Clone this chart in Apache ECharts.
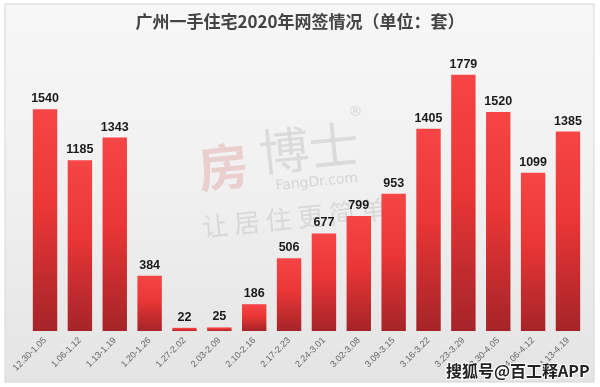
<!DOCTYPE html>
<html><head><meta charset="utf-8">
<script src="https://cdn.jsdelivr.net/npm/echarts@6/dist/echarts.min.js"></script>
<style>html,body{margin:0;padding:0;background:#fff}#c{width:600px;height:387px}</style>
</head><body><div id="c"></div>
<script>
const categories = ['12.30-1.05','1.06-1.12','1.13-1.19','1.20-1.26','1.27-2.02','2.03-2.09','2.10-2.16','2.17-2.23','2.24-3.01','3.02-3.08','3.09-3.15','3.16-3.22','3.23-3.29','3.30-4.05','4.06-4.12','4.13-4.19'];
const values = [1540,1185,1343,384,22,25,186,506,677,799,953,1405,1779,1520,1099,1385];
const titleText = '广州一手住宅2020年网签情况（单位：套）';

const chart = echarts.init(document.getElementById('c'), null, {renderer:'canvas'});
chart.setOption({
  animation:false,
  backgroundColor:'#ffffff',
  title:{text:titleText,left:'center',top:8,textStyle:{fontFamily:'Noto Sans CJK SC',fontSize:17,fontWeight:'bold',color:'#444'}},
  graphic:[
    {type:'rect',z:-10,shape:{x:5,y:4,width:589,height:378},style:{fill:new echarts.graphic.LinearGradient(0,0,0,1,[{offset:0,color:'#f7f7f7'},{offset:0.5,color:'#f0f0f0'},{offset:1,color:'#e4e4e4'}]),stroke:'#d6d6d6',lineWidth:1}},
    {type:'group',z:-5,x:0,y:0,rotation:0.1,originX:290,originY:180,children:[
      {type:'text',x:200,y:135,style:{text:'房',font:'bold 50px "Noto Sans CJK SC"',fill:'rgba(220,120,120,0.28)'}},
      {type:'text',x:262,y:125,style:{text:'博士',font:'50px "Noto Sans CJK SC"',fill:'rgba(150,150,150,0.25)'}},
      {type:'text',x:275,y:178,style:{text:'FangDr.com',font:'14px "DejaVu Sans"',fill:'rgba(150,150,150,0.3)'}},
      {type:'text',x:355,y:112,style:{text:'®',font:'14px "DejaVu Sans"',fill:'rgba(150,150,150,0.3)'}},
      {type:'text',x:198,y:205,style:{text:'让 居 住 更 简 单',font:'26px "Noto Sans CJK SC"',fill:'rgba(150,150,150,0.25)'}}
    ]},
    {type:'text',z:100,x:446,y:363,style:{text:'搜狐号@百工释APP',font:'bold 16px "Noto Sans CJK SC"',fill:'#222',stroke:'#fff',lineWidth:2}}
  ],
  grid:{left:27.6,right:14.6,top:43,bottom:56,containLabel:false},
  xAxis:{type:'category',data:categories,axisLine:{show:false},axisTick:{show:false},
    axisLabel:{rotate:45,interval:0,fontSize:9,color:'#666',fontFamily:'Liberation Sans',margin:8}},
  yAxis:{type:'value',min:0,max:2000,show:false,splitLine:{show:false}},
  series:[{type:'bar',data:values,barCategoryGap:'30%',z:2,
    itemStyle:{color:new echarts.graphic.LinearGradient(0,0,0,1,[{offset:0,color:'#f64545'},{offset:0.45,color:'#ea3636'},{offset:1,color:'#a52428'}])},
    label:{show:true,position:'top',distance:4,color:'#1a1a1a',fontWeight:'bold',fontSize:12.5,fontFamily:'Liberation Sans'}
  }]
});
</script></body></html>
